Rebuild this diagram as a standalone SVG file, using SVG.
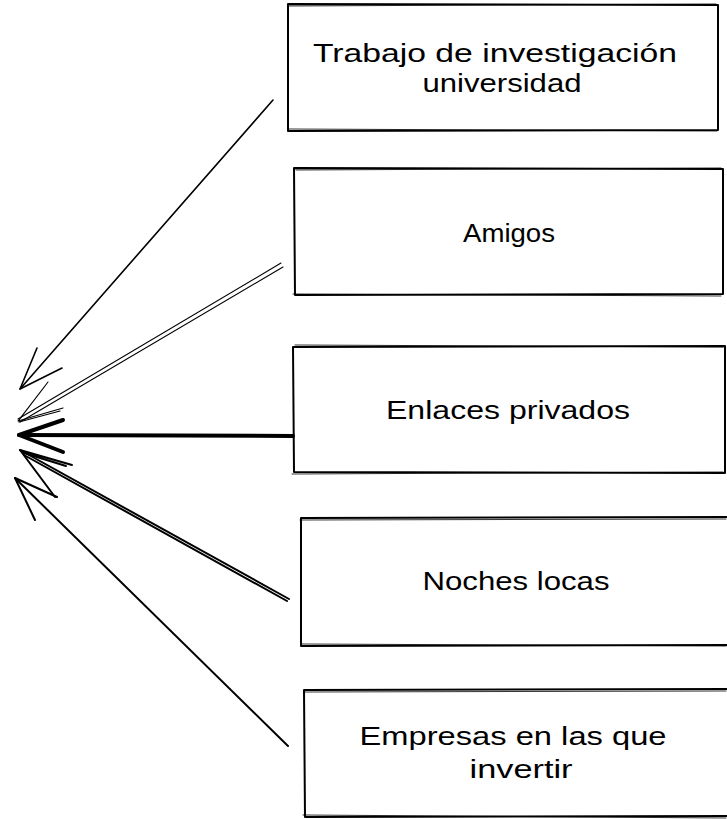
<svg xmlns="http://www.w3.org/2000/svg" width="727" height="819" viewBox="0 0 727 819">
<style>
.box{fill:none;stroke:#000;stroke-width:2;stroke-linejoin:round;stroke-linecap:round}
.box2{fill:none;stroke:#000;stroke-width:1;stroke-linecap:round;opacity:.8}
.lbl{font-family:"Liberation Sans","Noto Sans",sans-serif;font-size:26px;fill:#000;text-anchor:middle}
.c{fill:none;stroke:#000;stroke-linecap:round;stroke-linejoin:round}
</style>
<rect width="727" height="819" fill="#fff"/>
<g id="connectors">
  <g id="a1" class="c" stroke-width="1.6">
    <path d="M273,100 L20,389"/>
    <path d="M20,389 L37,348 M20,389 L62,368"/>
  </g>
  <g id="a2" class="c" stroke-width="1.1">
    <path d="M281,263 L18,419"/>
    <path d="M283,267 L20,422"/>
    <path d="M18,421 L48,382 M19,420 L45,386 M18,421 L63,408 M19,422 L60,411"/>
  </g>
  <g id="a3" class="c" stroke-width="4">
    <path d="M293,436 L19,435"/>
    <path d="M19,435 L63,420 M19,435 L63,452"/>
  </g>
  <g id="a4" class="c" stroke-width="2">
    <path d="M289,599 L20,450"/>
    <path d="M287,601 L24,455"/>
    <path d="M20,450 L72,465 M20,450 L55,497 M24,453 L66,466"/>
  </g>
  <g id="a5" class="c" stroke-width="2">
    <path d="M288,746 L15,478"/>
    <path d="M15,478 L57,497 M15,478 L35,520"/>
  </g>
</g>
<g id="n1">
  <path class="box" d="M288,4 L718,5 L718,130 L288,131 Z"/>
  <path class="box2" d="M289,6 L716,4 M289,129 L717,131"/>
  <text class="lbl" x="495" y="62" textLength="364" lengthAdjust="spacingAndGlyphs">Trabajo de investigación</text>
  <text class="lbl" x="502" y="92" textLength="159" lengthAdjust="spacingAndGlyphs">universidad</text>
</g>
<g id="n2">
  <path class="box" d="M294,168 L723,169 L723,294 L295,295 Z"/>
  <path class="box2" d="M296,170 L721,168 M293,294 L721,296"/>
  <text class="lbl" x="509" y="242" textLength="92" lengthAdjust="spacingAndGlyphs">Amigos</text>
</g>
<g id="n3">
  <path class="box" d="M293,347 L725,346 L725,473 L294,472 Z"/>
  <path class="box2" d="M295,345 L723,347 M292,474 L723,472"/>
  <text class="lbl" x="508" y="419" textLength="244" lengthAdjust="spacingAndGlyphs">Enlaces privados</text>
</g>
<g id="n4">
  <path class="box" d="M301,518 L727,517 M301,518 L301,646 L727,645"/>
  <path class="box2" d="M300,520 L726,519 M302,644 L726,646"/>
  <text class="lbl" x="516" y="590" textLength="187" lengthAdjust="spacingAndGlyphs">Noches locas</text>
</g>
<g id="n5">
  <path class="box" d="M304,690 L727,689 M304,690 L305,817 L727,816"/>
  <path class="box2" d="M305,692 L726,691 M303,815 L726,818"/>
  <text class="lbl" x="513" y="745" textLength="307" lengthAdjust="spacingAndGlyphs">Empresas en las que</text>
  <text class="lbl" x="521" y="778" textLength="103" lengthAdjust="spacingAndGlyphs">invertir</text>
</g>
</svg>
